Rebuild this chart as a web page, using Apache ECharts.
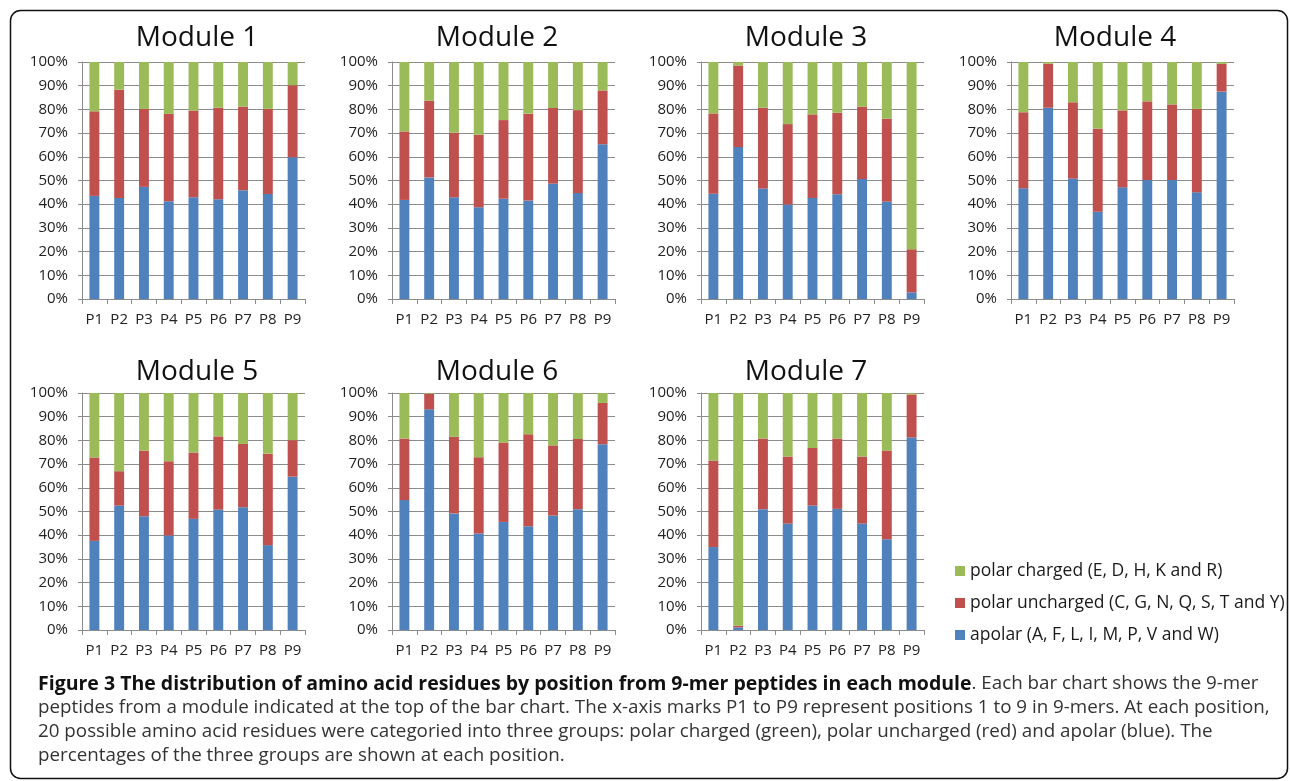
<!DOCTYPE html>
<html>
<head>
<meta charset="utf-8">
<script src="https://cdn.jsdelivr.net/npm/echarts@6/dist/echarts.min.js"></script>
<style>
  html, body { margin: 0; padding: 0; background: #fff; }
  #chart { width: 1290px; height: 781px; }
</style>
</head>
<body>
<div id="chart"></div>
<script>
// Residue positions within a 9-mer
const positions = ['P1', 'P2', 'P3', 'P4', 'P5', 'P6', 'P7', 'P8', 'P9'];
const moduleNames = ['Module 1', 'Module 2', 'Module 3', 'Module 4', 'Module 5', 'Module 6', 'Module 7'];
const groupNames = [
  'apolar (A, F, L, I, M, P, V and W)',
  'polar uncharged (C, G, N, Q, S, T and Y)',
  'polar charged (E, D, H, K and R)'
];

// Percentage of each residue group at each position, one row per module
const apolar = [
  [43.5, 42.6, 47.3, 41.2, 42.9, 42.1, 45.9, 44.3, 59.8],
  [41.8, 51.3, 42.9, 38.7, 42.3, 41.6, 48.7, 44.7, 65.3],
  [44.4, 64.1, 46.6, 39.9, 42.6, 44.2, 50.6, 41.1, 2.8],
  [46.7, 80.7, 50.8, 36.8, 47.1, 50.2, 50.2, 45.0, 87.5],
  [37.6, 52.5, 48.0, 39.9, 46.9, 50.8, 51.8, 35.8, 64.7],
  [54.8, 93.1, 49.2, 40.7, 45.6, 43.8, 48.3, 51.0, 78.4],
  [35.0, 1.1, 51.0, 44.9, 52.5, 51.1, 44.9, 38.3, 81.2]
];
const polarUncharged = [
  [35.7, 45.7, 32.9, 36.9, 36.6, 38.6, 35.3, 35.9, 30.4],
  [28.9, 32.4, 27.3, 30.6, 33.2, 36.6, 31.9, 35.0, 22.7],
  [33.9, 34.4, 34.1, 33.9, 35.3, 34.4, 30.6, 35.0, 18.2],
  [32.1, 18.6, 32.2, 35.1, 32.5, 33.2, 31.9, 35.2, 11.7],
  [35.2, 14.5, 27.7, 31.3, 28.0, 30.9, 26.7, 38.6, 15.4],
  [26.0, 6.6, 32.3, 32.2, 33.5, 38.8, 29.6, 29.6, 17.4],
  [36.5, 0.7, 29.8, 28.3, 24.3, 29.7, 28.3, 37.4, 18.2]
];
const polarCharged = [
  [20.8, 11.7, 19.8, 21.9, 20.5, 19.3, 18.8, 19.8, 9.8],
  [29.3, 16.3, 29.8, 30.7, 24.5, 21.8, 19.4, 20.3, 12.0],
  [21.7, 1.5, 19.3, 26.2, 22.1, 21.4, 18.8, 23.9, 79.0],
  [21.2, 0.7, 17.0, 28.1, 20.4, 16.6, 17.9, 19.8, 0.8],
  [27.2, 33.0, 24.3, 28.8, 25.1, 18.3, 21.5, 25.6, 19.9],
  [19.2, 0.3, 18.5, 27.1, 20.9, 17.4, 22.1, 19.4, 4.2],
  [28.5, 98.2, 19.2, 26.8, 23.2, 19.2, 26.8, 24.3, 0.6]
];
const groupValues = [apolar, polarUncharged, polarCharged];
const groupColors = ['#4F81BD', '#C0504D', '#9BBB59'];

const captionLines = [
  ['Figure 3 The distribution of amino acid residues by position from 9-mer peptides in each module', '. Each bar chart shows the 9-mer'],
  ['', 'peptides from a module indicated at the top of the bar chart. The x-axis marks P1 to P9 represent positions 1 to 9 in 9-mers. At each position,'],
  ['', '20 possible amino acid residues were categoried into three groups: polar charged (green), polar uncharged (red) and apolar (blue). The'],
  ['', 'percentages of the three groups are shown at each position.']
];

// Panel layout: 4 columns on the first row, 3 on the second
const FONT = '"Open Sans", "DejaVu Sans", sans-serif';
const colLeft = [82, 392, 701, 1011];
const rowTop = [62, 393];
const titleX = [197, 497, 806, 1115];
const titleY = [38, 372];
const plotW = 223, plotH = 237;
const axisGray = '#8c8c8c';

const grids = [], xAxes = [], yAxes = [], series = [], graphics = [];

moduleNames.forEach((name, m) => {
  const row = m < 4 ? 0 : 1;
  const col = m < 4 ? m : m - 4;
  grids.push({ left: colLeft[col], top: rowTop[row], width: plotW, height: plotH, containLabel: false });
  xAxes.push({
    type: 'category', gridIndex: m, data: positions,
    axisLine: { lineStyle: { color: axisGray, width: 1 } },
    axisTick: { show: true, length: 5, lineStyle: { color: axisGray } },
    axisLabel: { color: '#222', fontSize: 15, fontFamily: FONT, margin: 13 }
  });
  yAxes.push({
    type: 'value', gridIndex: m, min: 0, max: 100, interval: 10,
    axisLine: { show: true, lineStyle: { color: axisGray, width: 1 } },
    axisTick: { show: true, length: 4, lineStyle: { color: axisGray } },
    splitLine: { show: true, lineStyle: { color: axisGray, width: 1 } },
    axisLabel: { color: '#222', fontSize: 15, fontFamily: FONT, margin: 14, formatter: '{value}%' }
  });
  groupNames.forEach((g, k) => {
    series.push({
      type: 'bar', name: g, stack: 'module' + m,
      xAxisIndex: m, yAxisIndex: m,
      barWidth: '40%',
      itemStyle: { color: groupColors[k] },
      data: groupValues[k][m]
    });
  });
  graphics.push({
    type: 'text', x: titleX[col], y: titleY[row],
    style: { text: name, fill: '#111', font: '28px ' + FONT, textAlign: 'center', textVerticalAlign: 'middle' }
  });
});

// Outer frame around the figure
graphics.push({
  type: 'rect', z: -1,
  shape: { x: 10.5, y: 10.5, width: 1277, height: 768, r: 10 },
  style: { fill: 'none', stroke: '#111', lineWidth: 1.5 }
});

// Caption below the panels
const captionTop = 684, captionStep = 24;
captionLines.forEach((parts, i) => {
  const text = (parts[0] ? '{b|' + parts[0] + '}' : '') + '{r|' + parts[1] + '}';
  graphics.push({
    type: 'text', x: 38, y: captionTop + i * captionStep,
    style: {
      text: text, textVerticalAlign: 'middle',
      rich: {
        b: { fontFamily: FONT, fontSize: 19.5, fontWeight: 'bold', fill: '#111' },
        r: { fontFamily: FONT, fontSize: 18.8, fill: '#333' }
      }
    }
  });
});

const chart = echarts.init(document.getElementById('chart'), null, { renderer: 'canvas' });
chart.setOption({
  animation: false,
  backgroundColor: '#fff',
  grid: grids,
  xAxis: xAxes,
  yAxis: yAxes,
  series: series,
  legend: {
    data: [groupNames[2], groupNames[1], groupNames[0]],
    orient: 'vertical', left: 950, top: 557,
    icon: 'rect', itemWidth: 10, itemHeight: 10, itemGap: 14,
    selectedMode: false,
    textStyle: { fontSize: 17.5, fontFamily: FONT, color: '#1a1a1a' }
  },
  graphic: graphics
});
</script>
</body>
</html>
